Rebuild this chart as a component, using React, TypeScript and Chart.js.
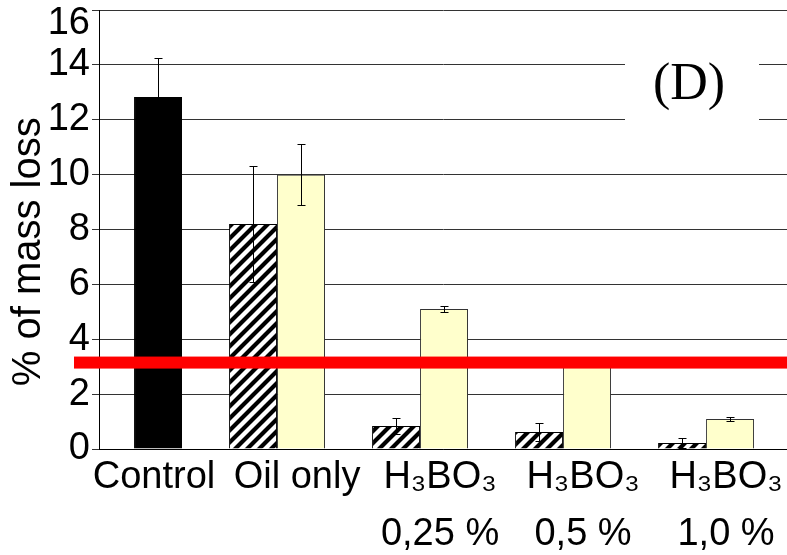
import React, { useEffect, useRef } from 'react';
import { Chart, registerables } from 'chart.js';

Chart.register(...registerables);

// ---- data ----
const CATEGORIES: string[][] = [
  ['Control'],
  ['Oil only'],
  ['H₃BO₃', '0,25 %'],
  ['H₃BO₃', '0,5 %'],
  ['H₃BO₃', '1,0 %'],
];
const GROUP_INDEX = [0, 1, 2, 3, 4];
const HATCHED_VALUES: (number | null)[] = [null, 8.2, 0.84, 0.62, 0.22];
const HATCHED_ERRORS = [0, 2.1, 0.28, 0.33, 0.18];
const PLAIN_VALUES = [12.83, 10.0, 5.1, 3.2, 1.09];
const PLAIN_ERRORS = [1.42, 1.1, 0.1, 0.1, 0.08];
const PLAIN_COLORS = ['#000000', '#FFFFCC', '#FFFFCC', '#FFFFCC', '#FFFFCC'];
const PLAIN_BORDERS = ['#000000', '#333333', '#333333', '#333333', '#333333'];
const Y_MIN = 0;
const Y_MAX = 16;
const Y_STEP = 2;
const THRESHOLD = 3.15;
const Y_TITLE = '% of mass loss    ';
const PANEL_LABEL = '(D)';

function makeHatch(): CanvasPattern | string {
  const c = document.createElement('canvas');
  c.width = 12;
  c.height = 12;
  const g = c.getContext('2d');
  if (!g) return '#888';
  g.fillStyle = '#ffffff';
  g.fillRect(0, 0, 12, 12);
  g.strokeStyle = '#000000';
  g.lineWidth = 4.2;
  g.lineCap = 'square';
  g.beginPath();
  g.moveTo(-2, 14);
  g.lineTo(14, -2);
  g.moveTo(-8, 8);
  g.lineTo(8, -8);
  g.moveTo(4, 20);
  g.lineTo(20, 4);
  g.stroke();
  const p = g.createPattern(c, 'repeat');
  return p || '#888';
}

const errorBarsPlugin = {
  id: 'errorBars',
  afterDatasetsDraw(chart: any) {
    const { ctx } = chart;
    const y = chart.scales.y;
    ctx.save();
    ctx.strokeStyle = '#000000';
    ctx.lineWidth = 1;
    chart.data.datasets.forEach((ds: any, di: number) => {
      const meta = chart.getDatasetMeta(di);
      meta.data.forEach((bar: any, i: number) => {
        const v = ds.data[i].y;
        const e = ds.errors ? ds.errors[i] : 0;
        if (v == null || !e) return;
        const x = Math.round(bar.x) + 0.5;
        const top = Math.round(y.getPixelForValue(v + e)) + 0.5;
        const bot = Math.round(y.getPixelForValue(v - e)) + 0.5;
        ctx.beginPath();
        ctx.moveTo(x, top);
        ctx.lineTo(x, bot);
        ctx.moveTo(x - 4, top);
        ctx.lineTo(x + 4, top);
        ctx.moveTo(x - 4, bot);
        ctx.lineTo(x + 4, bot);
        ctx.stroke();
      });
    });
    ctx.restore();
  },
};

const thresholdPlugin = {
  id: 'thresholdLine',
  afterDatasetsDraw(chart: any) {
    const { ctx, chartArea } = chart;
    const yy = chart.scales.y.getPixelForValue(THRESHOLD);
    ctx.save();
    ctx.fillStyle = '#FF0000';
    ctx.fillRect(chartArea.left - 25, yy - 6, chart.width - (chartArea.left - 25), 12);
    ctx.restore();
  },
};

const panelLabelPlugin = {
  id: 'panelLabel',
  beforeDatasetsDraw(chart: any) {
    const { ctx, chartArea } = chart;
    const cx = chartArea.right - 98;
    const cy = chartArea.top + 75;
    ctx.save();
    ctx.fillStyle = '#ffffff';
    ctx.fillRect(cx - 64, cy - 38, 134, 80);
    ctx.fillStyle = '#000000';
    ctx.font = '52px "Liberation Serif", "Times New Roman", serif';
    ctx.textAlign = 'center';
    ctx.textBaseline = 'middle';
    ctx.fillText(PANEL_LABEL, cx, cy);
    ctx.restore();
  },
};

export default function App() {
  const ref = useRef<HTMLCanvasElement | null>(null);

  useEffect(() => {
    if (!ref.current) return;
    const hatch = makeHatch();
    const chart = new Chart(ref.current, {
      type: 'bar',
      data: {
        datasets: [
          {
            data: GROUP_INDEX.map((g, i) => ({ x: g, y: HATCHED_VALUES[i] })),
            errors: HATCHED_ERRORS,
            backgroundColor: hatch,
            borderColor: '#000000',
            borderWidth: 1,
          } as any,
          {
            data: GROUP_INDEX.map((g, i) => ({ x: g, y: PLAIN_VALUES[i] })),
            errors: PLAIN_ERRORS,
            backgroundColor: PLAIN_COLORS,
            borderColor: PLAIN_BORDERS,
            borderWidth: 1,
          } as any,
        ],
      },
      options: {
        animation: false,
        responsive: false,
        maintainAspectRatio: false,
        layout: { padding: { top: 10, left: 0, right: 0, bottom: 0 } },
        datasets: { bar: { barPercentage: 1, categoryPercentage: 0.671 } },
        plugins: { legend: { display: false }, tooltip: { enabled: false } },
        scales: {
          x: {
            type: 'linear',
            min: -0.245,
            max: 4.566,
            offset: false,
            grid: { display: false, drawTicks: false },
            border: { display: true, color: '#000000', width: 1 },
            afterBuildTicks: (scale: any) => {
              scale.ticks = GROUP_INDEX.map((v) => ({ value: v }));
            },
            afterFit: (scale: any) => {
              scale.height = 106;
              scale.paddingLeft = 0;
              scale.paddingRight = 0;
            },
            ticks: {
              autoSkip: false,
              maxRotation: 0,
              minRotation: 0,
              padding: 0,
              labelOffset: 20,
              color: '#000000',
              font: { family: '"Liberation Sans", Arial, sans-serif', size: 38, lineHeight: '57px' },
              callback: (value: any) => CATEGORIES[Math.round(Number(value))] || '',
            },
          },
          y: {
            min: Y_MIN,
            max: Y_MAX,
            grid: { color: '#333333', lineWidth: 1, drawTicks: true, tickLength: 7 },
            border: { display: true, color: '#000000', width: 1 },
            afterFit: (scale: any) => {
              scale.width = 99;
              scale.paddingTop = 0;
              scale.paddingBottom = 0;
            },
            title: {
              display: true,
              text: Y_TITLE,
              color: '#000000',
              font: { family: '"Liberation Sans", Arial, sans-serif', size: 40 },
              padding: { top: 5, bottom: 0 },
            },
            ticks: {
              stepSize: Y_STEP,
              autoSkip: false,
              padding: 2,
              color: '#000000',
              font: { family: '"Liberation Sans", Arial, sans-serif', size: 38, lineHeight: '28px' },
              callback: (value: any) => (Number(value) === Y_MAX ? ['', String(value)] : String(value)),
            },
          },
        },
      } as any,
      plugins: [panelLabelPlugin, errorBarsPlugin, thresholdPlugin],
    });
    return () => chart.destroy();
  }, []);

  return (
    <div style={{ position: 'fixed', left: 0, top: 0, width: 787, height: 555, background: '#ffffff' }}>
      <canvas ref={ref} width={787} height={555} style={{ display: 'block', width: 787, height: 555 }} />
    </div>
  );
}
